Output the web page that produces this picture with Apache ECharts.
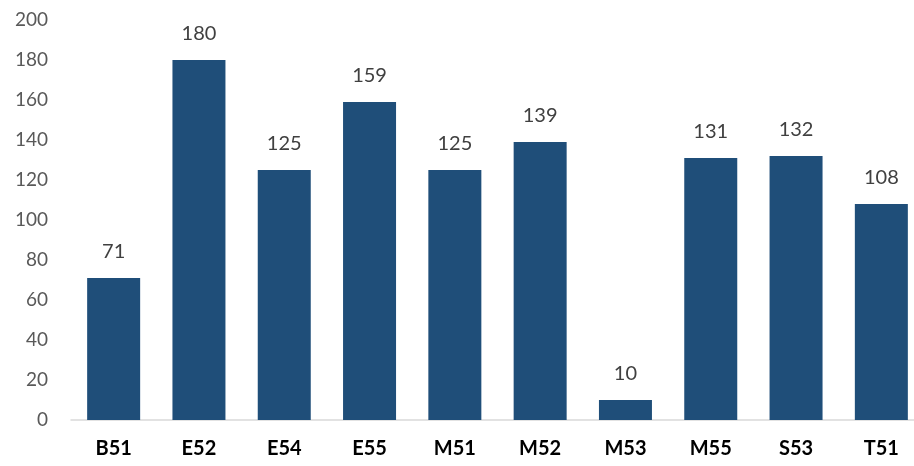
<!DOCTYPE html>
<html><head><meta charset="utf-8">
<script src="https://cdn.jsdelivr.net/npm/echarts@6/dist/echarts.min.js"></script>
<style>html,body{margin:0;padding:0;background:#fff;overflow:hidden;width:914px;height:466px}#c{width:924px;height:466px}</style>
</head><body><div id="c"></div>
<script>
const categories = ['B51','E52','E54','E55','M51','M52','M53','M55','S53','T51'];
const values = [71,180,125,159,125,139,10,131,132,108];
const yTicks = {min:0, max:200, interval:20};
const chart = echarts.init(document.getElementById('c'));
chart.setOption({
  animation:false,
  grid:{left:71, top:20, right:0, height:400, containLabel:false},
  xAxis:{type:'category', data:categories,
    axisLine:{lineStyle:{color:'#d9d9d9', width:1.5}}, axisTick:{show:false},
    axisLabel:{fontFamily:'Lato', fontWeight:'bold', fontSize:20, color:'#000', margin:19}},
  yAxis:{type:'value', min:yTicks.min, max:yTicks.max, interval:yTicks.interval,
    splitLine:{show:false}, axisLine:{show:false}, axisTick:{show:false},
    axisLabel:{fontFamily:'Lato', fontSize:19, color:'#595959', margin:23}},
  series:[{type:'bar', data:values, barWidth:53,
    itemStyle:{color:'#1F4E79'},
    label:{show:true, position:'top', distance:16, fontFamily:'Lato', fontSize:20, color:'#404040'}}]
});
</script></body></html>
